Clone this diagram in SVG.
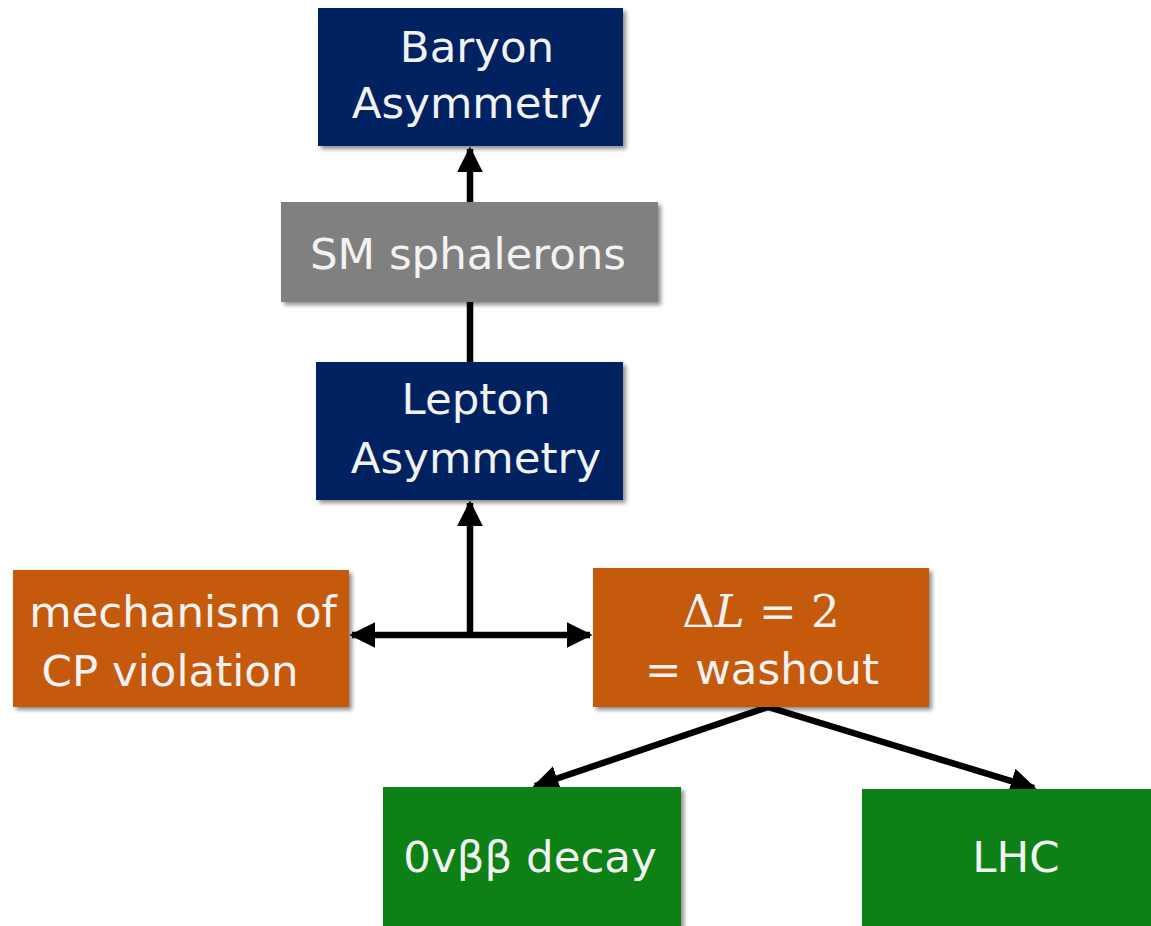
<svg xmlns="http://www.w3.org/2000/svg" width="1151" height="926" viewBox="0 0 1151 926">
<style>
.t{font-family:"DejaVu Sans",Verdana,sans-serif;font-size:43.5px;fill:#f2f2f2;text-anchor:middle}
.m{font-family:"DejaVu Serif","Liberation Serif",serif;font-size:45px;fill:#f2f2f2;text-anchor:middle}
.c{stroke:#000;stroke-width:6.5;fill:none}
.navy{fill:#002060}
.gray{fill:#808080}
.orange{fill:#c55a11}
.green{fill:#108018}
</style>
<defs>
<filter id="sh" x="-10%" y="-10%" width="125%" height="125%">
<feGaussianBlur in="SourceAlpha" stdDeviation="2"/>
<feOffset dx="3" dy="3"/>
<feComponentTransfer><feFuncA type="linear" slope="0.45"/></feComponentTransfer>
<feMerge><feMergeNode/><feMergeNode in="SourceGraphic"/></feMerge>
</filter>
<marker id="ah" viewBox="0 0 10 10" refX="9" refY="5" markerWidth="4" markerHeight="4" orient="auto-start-reverse" markerUnits="strokeWidth">
<path d="M0,0 L10,5 L0,10 z" fill="#000"/>
</marker>
</defs>
<g id="connectors">
<line class="c" x1="470" y1="202" x2="470" y2="149" marker-end="url(#ah)"/>
<line class="c" x1="470" y1="302" x2="470" y2="362"/>
<line class="c" x1="470" y1="635" x2="470" y2="503" marker-end="url(#ah)"/>
<line class="c" x1="352" y1="635" x2="590" y2="635" marker-start="url(#ah)" marker-end="url(#ah)"/>
<line class="c" x1="768" y1="707" x2="535" y2="786" marker-end="url(#ah)"/>
<line class="c" x1="768" y1="707" x2="1034" y2="788" marker-end="url(#ah)"/>
</g>
<g id="baryon">
<rect class="navy" x="318" y="8" width="305" height="138" filter="url(#sh)"/>
<text class="t" x="477" y="62">Baryon</text>
<text class="t" x="477" y="118">Asymmetry</text>
</g>
<g id="sphalerons">
<rect class="gray" x="281" y="202" width="377" height="100" filter="url(#sh)"/>
<text class="t" x="468" y="269">SM sphalerons</text>
</g>
<g id="lepton">
<rect class="navy" x="316" y="362" width="307" height="138" filter="url(#sh)"/>
<text class="t" x="476" y="414">Lepton</text>
<text class="t" x="476" y="473">Asymmetry</text>
</g>
<g id="cp">
<rect class="orange" x="13" y="570" width="336" height="137" filter="url(#sh)"/>
<text class="t" x="183" y="627">mechanism of</text>
<text class="t" x="170" y="686">CP violation</text>
</g>
<g id="washout">
<rect class="orange" x="593" y="568" width="336" height="139" filter="url(#sh)"/>
<text class="m" x="761" y="627">Δ<tspan font-style="italic">L</tspan> = 2</text>
<text class="t" x="762" y="684">= washout</text>
</g>
<g id="decay">
<rect class="green" x="383" y="787" width="298" height="145" filter="url(#sh)"/>
<text class="t" x="530" y="872">0vββ decay</text>
</g>
<g id="lhc">
<rect class="green" x="862" y="789" width="295" height="145" filter="url(#sh)"/>
<text class="t" x="1016" y="872">LHC</text>
</g>
</svg>
